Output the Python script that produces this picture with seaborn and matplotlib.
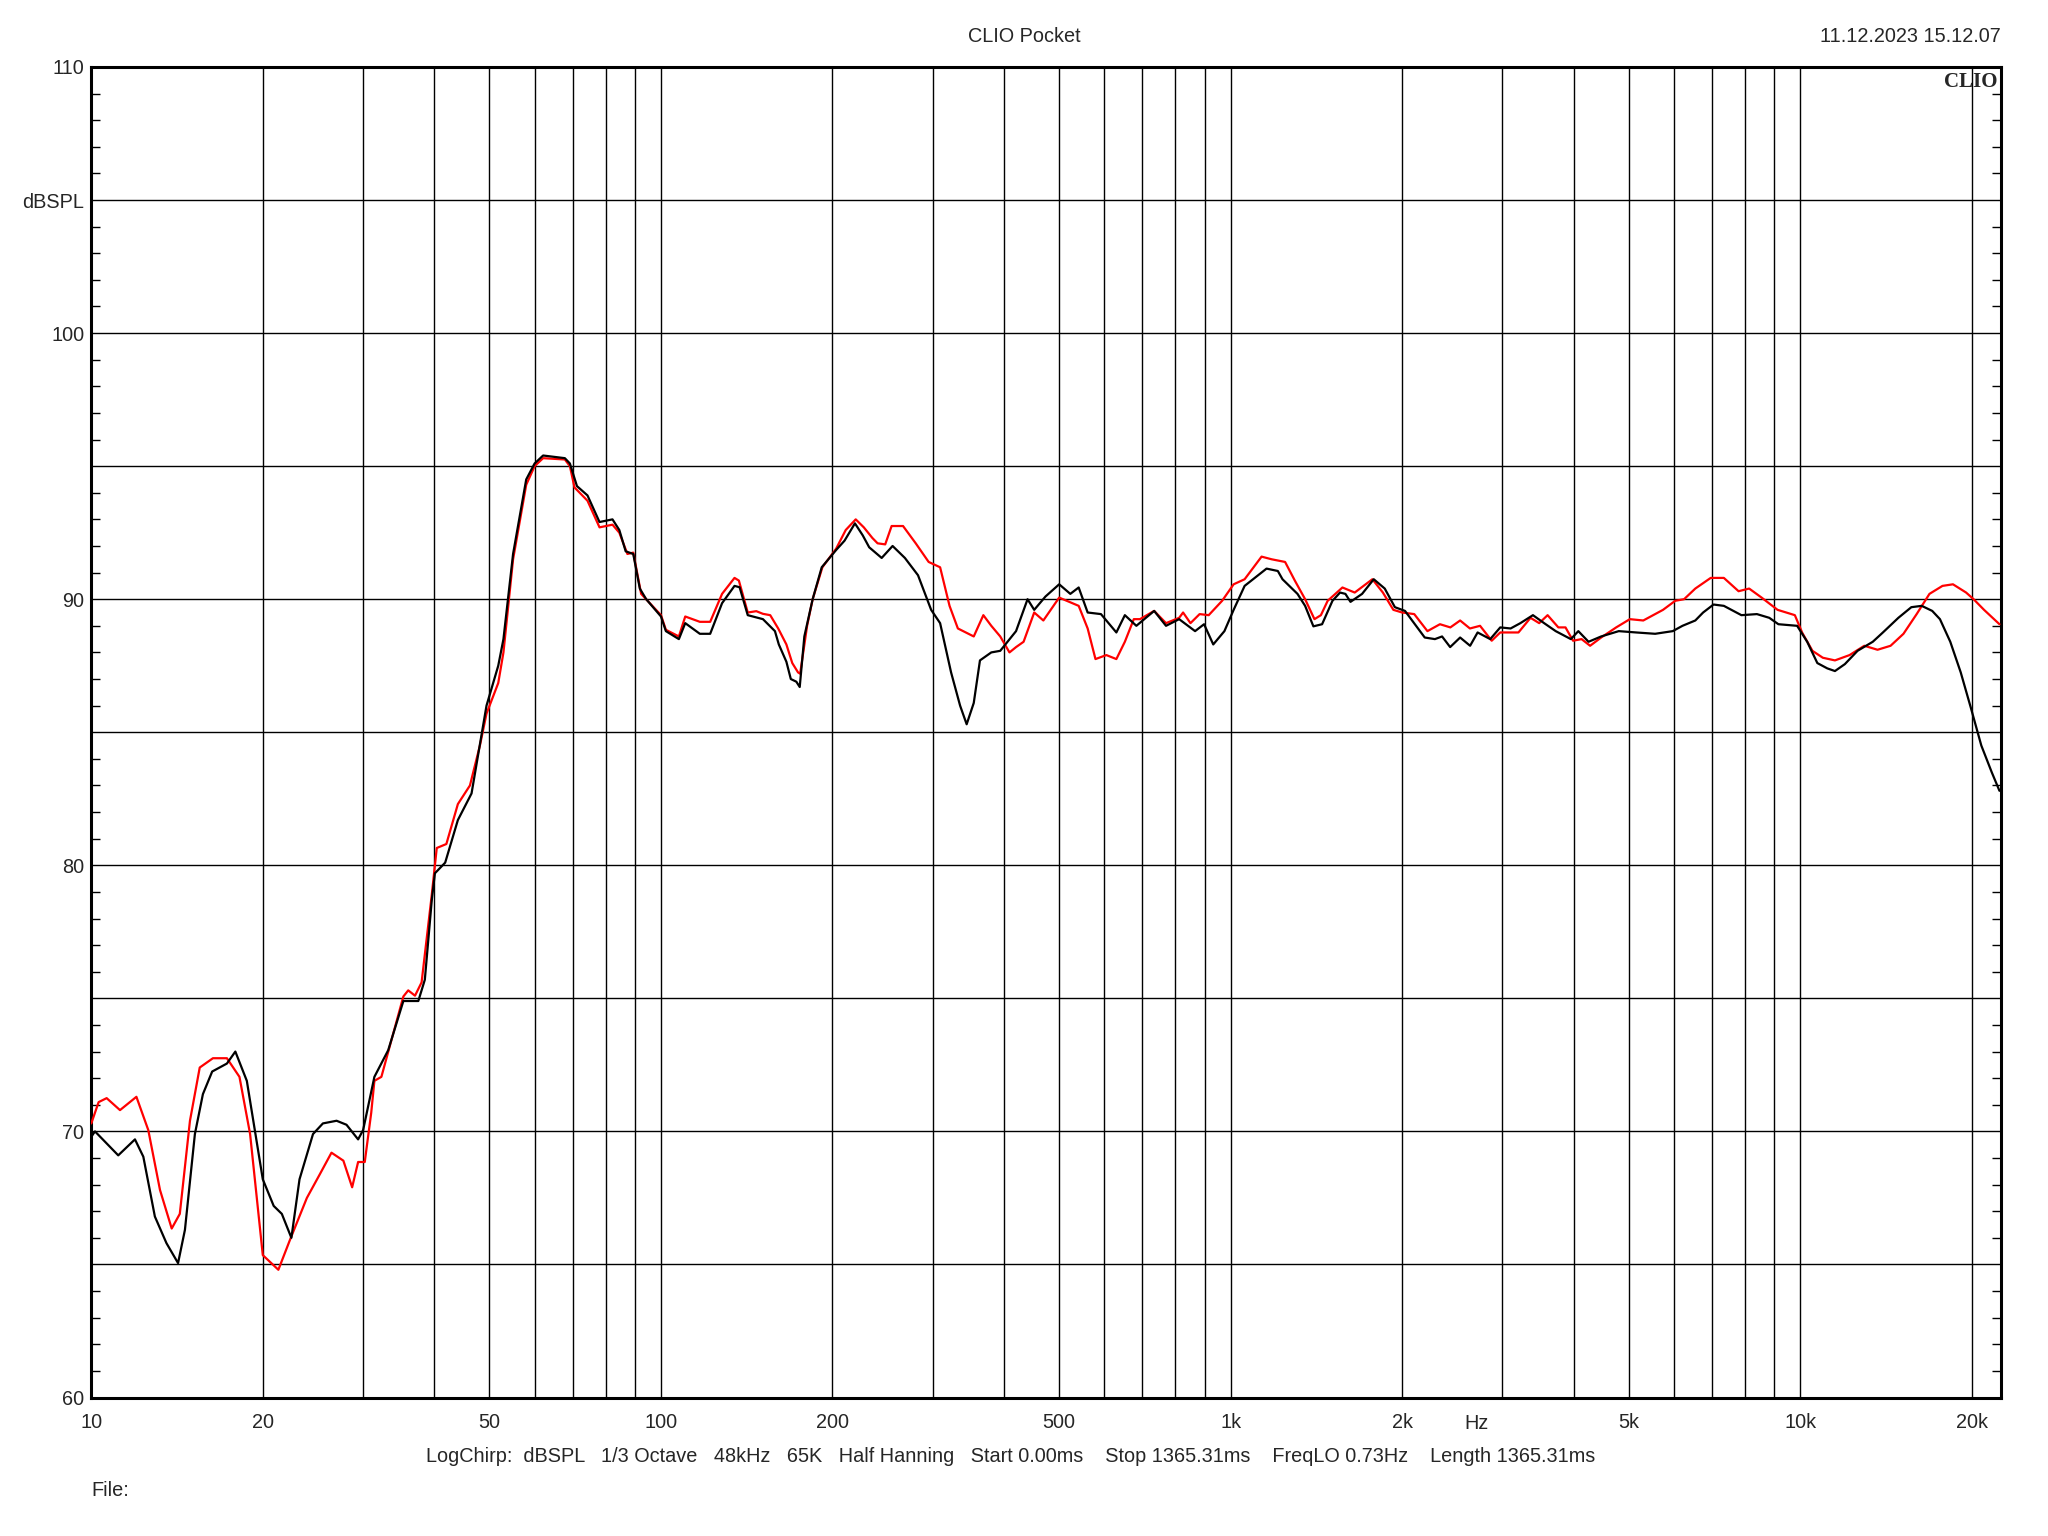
import numpy as np
import pandas as pd
import seaborn as sns
import matplotlib
matplotlib.use('Agg')
import matplotlib.pyplot as plt
from matplotlib.ticker import NullLocator, MultipleLocator
import matplotlib.transforms as mtransforms

###############################################################################
# Data
###############################################################################
freq_black = [10, 10.15, 11.15, 11.93, 12.34, 12.93, 13.55, 14.2, 14.6, 15.2,
              15.7, 16.3, 17.3, 17.9, 18.75, 20.0, 20.9, 21.6, 22.45, 23.2,
              24.5, 25.5, 26.95, 28.05, 29.4, 30.0, 31.4, 33.2, 35.3, 37.5,
              38.5, 39.6, 40.1, 41.8, 44.0, 46.5, 49.4, 51.8, 52.9, 55.0,
              58.0, 60.0, 62.1, 67.8, 69.2, 71.2, 74.3, 78.0, 82.2, 84.5,
              86.7, 89.4, 91.8, 94.2, 100, 102, 107.5, 110.3, 117, 122,
              128, 134.6, 137.4, 142, 151, 158.5, 161, 166, 169, 172.8,
              175.2, 178.5, 184.6, 191.5, 203, 210, 219, 226, 232, 244,
              255, 268, 282.6, 298, 309, 323, 335, 344, 354, 363,
              380, 394, 420, 440, 452, 473, 500, 523, 541, 561,
              592, 630, 652, 683, 734, 770, 812, 866, 898, 932,
              975, 1012, 1058, 1156, 1210, 1233, 1310, 1351, 1397, 1447,
              1509, 1556, 1590, 1623, 1701, 1783, 1864, 1942, 2023, 2191,
              2283, 2350, 2428, 2528, 2632, 2713, 2855, 2973, 3100, 3225,
              3393, 3550, 3720, 3955, 4076, 4248, 4470, 4800, 5150, 5560,
              5970, 6210, 6540, 6750, 7040, 7340, 7880, 8390, 8820, 9150,
              9870, 10280, 10710, 11150, 11500, 11970, 12600, 13400, 13960, 14860,
              15660, 16330, 17040, 17580, 18330, 19120, 19930, 20780, 21670, 22360]
spl_black = [69.8, 70.0, 69.1, 69.7, 69.05, 66.8, 65.8, 65.05, 66.3, 69.9,
             71.4, 72.25, 72.55, 73.0, 71.9, 68.2, 67.2, 66.9, 66.0, 68.2,
             69.9, 70.3, 70.4, 70.25, 69.7, 70.05, 72.05, 73.05, 74.9, 74.9,
             75.7, 78.7, 79.7, 80.1, 81.7, 82.7, 86.0, 87.5, 88.5, 91.7,
             94.5, 95.1, 95.4, 95.3, 95.1, 94.25, 93.9, 92.9, 93.0, 92.6,
             91.8, 91.7, 90.4, 90.0, 89.35, 88.8, 88.5, 89.1, 88.7, 88.7,
             89.85, 90.5, 90.45, 89.4, 89.25, 88.8, 88.3, 87.65, 87.0, 86.9,
             86.7, 88.6, 90.0, 91.2, 91.85, 92.2, 92.85, 92.4, 91.95, 91.55,
             92.0, 91.55, 90.9, 89.6, 89.1, 87.25, 86.0, 85.3, 86.1, 87.7,
             88.0, 88.06, 88.8, 90.0, 89.6, 90.1, 90.56, 90.2, 90.44, 89.5,
             89.44, 88.75, 89.4, 89.0, 89.56, 89.0, 89.25, 88.8, 89.06, 88.3,
             88.8, 89.6, 90.5, 91.15, 91.06, 90.75, 90.2, 89.75, 88.98, 89.06,
             89.94, 90.25, 90.2, 89.9, 90.2, 90.75, 90.4, 89.7, 89.56, 88.56,
             88.5, 88.6, 88.2, 88.56, 88.25, 88.75, 88.5, 88.94, 88.9, 89.1,
             89.4, 89.1, 88.8, 88.5, 88.8, 88.4, 88.6, 88.8, 88.75, 88.7,
             88.8, 89.0, 89.2, 89.5, 89.8, 89.75, 89.4, 89.44, 89.3, 89.06,
             89.0, 88.4, 87.6, 87.4, 87.3, 87.56, 88.06, 88.4, 88.75, 89.3,
             89.7, 89.75, 89.56, 89.25, 88.4, 87.25, 85.9, 84.5, 83.5, 82.8]

freq_red = [10, 10.3, 10.64, 11.23, 12.0, 12.59, 13.2, 13.84, 14.3, 14.9,
            15.5, 16.35, 17.3, 18.2, 19.0, 20.0, 21.3, 22.3, 23.9, 25.2,
            26.4, 27.7, 28.7, 29.4, 30.2, 31.0, 31.4, 32.3, 33.9, 35.3,
            36.0, 37.0, 38.0, 39.6, 40.4, 42.0, 44.0, 46.2, 48.1, 49.4,
            51.8, 52.9, 55.0, 58.0, 60.0, 62.1, 67.8, 69.2, 70.5, 74.3,
            78, 82.2, 84.5, 87.3, 89.4, 92.3, 100, 102, 107.5, 110.3,
            117, 122, 128, 134.6, 137, 142, 147, 151, 155.5, 160.6,
            166, 170, 174, 175.5, 180.5, 184.6, 192, 203, 211, 219.7,
            227, 235, 240, 247.5, 254, 266, 280, 295, 309, 321,
            332, 354, 368, 380, 394, 409, 420, 433, 452, 469,
            500, 541, 561, 579, 605, 630, 652, 676, 693, 734,
            770, 812, 825, 850, 882, 915, 966, 1012, 1058, 1133,
            1180, 1246, 1296, 1351, 1403, 1440, 1480, 1571, 1651, 1773,
            1850, 1930, 2000, 2100, 2215, 2330, 2430, 2528, 2630, 2740,
            2872, 2973, 3200, 3360, 3480, 3600, 3760, 3870, 3990, 4130,
            4275, 4470, 4750, 5020, 5300, 5740, 6030, 6250, 6540, 6960,
            7340, 7790, 8130, 8550, 9120, 9780, 10070, 10500, 10950, 11500,
            12200, 12950, 13660, 14400, 15170, 16000, 16850, 17760, 18530, 19540,
            20140, 21010, 22360]
spl_red = [70.3, 71.1, 71.25, 70.8, 71.3, 70.05, 67.8, 66.35, 66.9, 70.4,
           72.4, 72.75, 72.75, 72.05, 69.9, 65.35, 64.8, 65.9, 67.5, 68.4,
           69.2, 68.9, 67.9, 68.85, 68.85, 70.7, 71.9, 72.05, 73.7, 75.07,
           75.3, 75.1, 75.6, 78.9, 80.65, 80.8, 82.3, 83.0, 84.5, 85.7,
           86.85, 88.0, 91.5, 94.3, 95.0, 95.3, 95.25, 95.0, 94.2, 93.7,
           92.7, 92.8, 92.5, 91.7, 91.75, 90.2, 89.4, 88.85, 88.6, 89.35,
           89.15, 89.15, 90.2, 90.8, 90.7, 89.5, 89.55, 89.45, 89.4, 88.9,
           88.3, 87.6, 87.25, 87.2, 89.0, 90.0, 91.2, 91.9, 92.6, 93.0,
           92.7, 92.3, 92.1, 92.06, 92.75, 92.75, 92.1, 91.4, 91.2, 89.75,
           88.9, 88.6, 89.4, 89.0, 88.6, 88.0, 88.2, 88.4, 89.5, 89.2,
           90.06, 89.75, 88.9, 87.75, 87.9, 87.75, 88.4, 89.25, 89.25, 89.56,
           89.1, 89.3, 89.5, 89.1, 89.44, 89.4, 89.94, 90.56, 90.75, 91.6,
           91.5, 91.4, 90.7, 90.0, 89.25, 89.4, 89.94, 90.44, 90.25, 90.75,
           90.25, 89.6, 89.5, 89.44, 88.8, 89.06, 88.94, 89.2, 88.9, 89.0,
           88.44, 88.75, 88.75, 89.3, 89.1, 89.4, 88.94, 88.94, 88.44, 88.5,
           88.25, 88.56, 88.94, 89.25, 89.2, 89.6, 89.94, 90.0, 90.4, 90.8,
           90.8, 90.3, 90.4, 90.06, 89.6, 89.4, 88.75, 88.06, 87.8, 87.7,
           87.9, 88.25, 88.1, 88.25, 88.7, 89.44, 90.2, 90.5, 90.56, 90.25,
           90.0, 89.6, 89.06]

grid_freqs = [10, 20, 30, 40, 50, 60, 70, 80, 90,
              100, 200, 300, 400, 500, 600, 700, 800, 900,
              1000, 2000, 3000, 4000, 5000, 6000, 7000, 8000, 9000,
              10000, 20000]
freq_labels = {10: '10', 20: '20', 50: '50', 100: '100', 200: '200',
               500: '500', 1000: '1k', 2000: '2k', 5000: '5k',
               10000: '10k', 20000: '20k'}
db_ticks = [60, 65, 70, 75, 80, 85, 90, 95, 100, 105, 110]
db_labels = {60: '60', 70: '70', 80: '80', 90: '90', 100: '100',
             105: 'dBSPL', 110: '110'}

###############################################################################
# Style
###############################################################################
sns.set_style('white')
plt.rcParams['font.family'] = ['Liberation Sans', 'DejaVu Sans']
fontsize = 14.3

W, H = 2048, 1536
fig = plt.figure(figsize=(W / 100, H / 100), dpi=100)
left, right, top, bottom = 91.3, 2001, 67, 1397.5
ax = fig.add_axes([left / W, 1 - bottom / H, (right - left) / W, (bottom - top) / H])

df_black = pd.DataFrame({'freq': freq_black, 'spl': spl_black})
df_red = pd.DataFrame({'freq': freq_red, 'spl': spl_red})

sns.lineplot(data=df_black, x='freq', y='spl', color='black', linewidth=1.6,
             ax=ax, sort=False, zorder=4)
sns.lineplot(data=df_red, x='freq', y='spl', color='#ff0000', linewidth=1.6,
             ax=ax, sort=False, zorder=3)

ax.set_xscale('log')
ax.set_xlim(10, 22500)
ax.set_ylim(60, 110)

ax.set_xticks(grid_freqs)
ax.set_xticklabels([freq_labels.get(f, '') for f in grid_freqs])
ax.xaxis.set_minor_locator(NullLocator())
ax.set_yticks(db_ticks)
ax.set_yticklabels([db_labels.get(d, '') for d in db_ticks])
ax.yaxis.set_minor_locator(MultipleLocator(1))

ax.grid(True, which='major', color='black', linewidth=1.0)
ax.tick_params(axis='x', which='both', length=0, pad=11, labelsize=fontsize)
ax.tick_params(axis='y', which='major', length=0, pad=5, labelsize=fontsize)
ax.tick_params(axis='y', which='minor', direction='in', length=6.5, width=1.0,
               left=True, right=True, color='black')
for sp in ax.spines.values():
    sp.set_visible(True)
    sp.set_color('black')
    sp.set_linewidth(2.2)
ax.set_xlabel('')
ax.set_ylabel('')

# "Hz" unit label among the frequency labels
trans = mtransforms.blended_transform_factory(ax.transData, ax.transAxes)
ax.text(2700, -0.0195, 'Hz', transform=trans, ha='center', va='center',
        fontsize=fontsize)

# CLIO logo inside the top-right corner
ax.text(0.998, 0.996, 'CLIO', transform=ax.transAxes, ha='right', va='top',
        fontsize=15, fontweight='bold', family=['Liberation Serif', 'DejaVu Serif'])

# Header and footer texts
fig.text(0.5, 1 - 36 / H, 'CLIO Pocket', ha='center', va='center', fontsize=fontsize)
fig.text(right / W, 1 - 36 / H, '11.12.2023 15.12.07', ha='right', va='center',
         fontsize=fontsize)
fig.text(1011 / W, 1 - 1456 / H,
         'LogChirp:  dBSPL   1/3 Octave   48kHz   65K   Half Hanning   Start 0.00ms'
         '    Stop 1365.31ms    FreqLO 0.73Hz    Length 1365.31ms',
         ha='center', va='center', fontsize=fontsize)
fig.text(left / W, 1 - 1490 / H, 'File:', ha='left', va='center', fontsize=fontsize)

fig.savefig('out.png', dpi=100)
